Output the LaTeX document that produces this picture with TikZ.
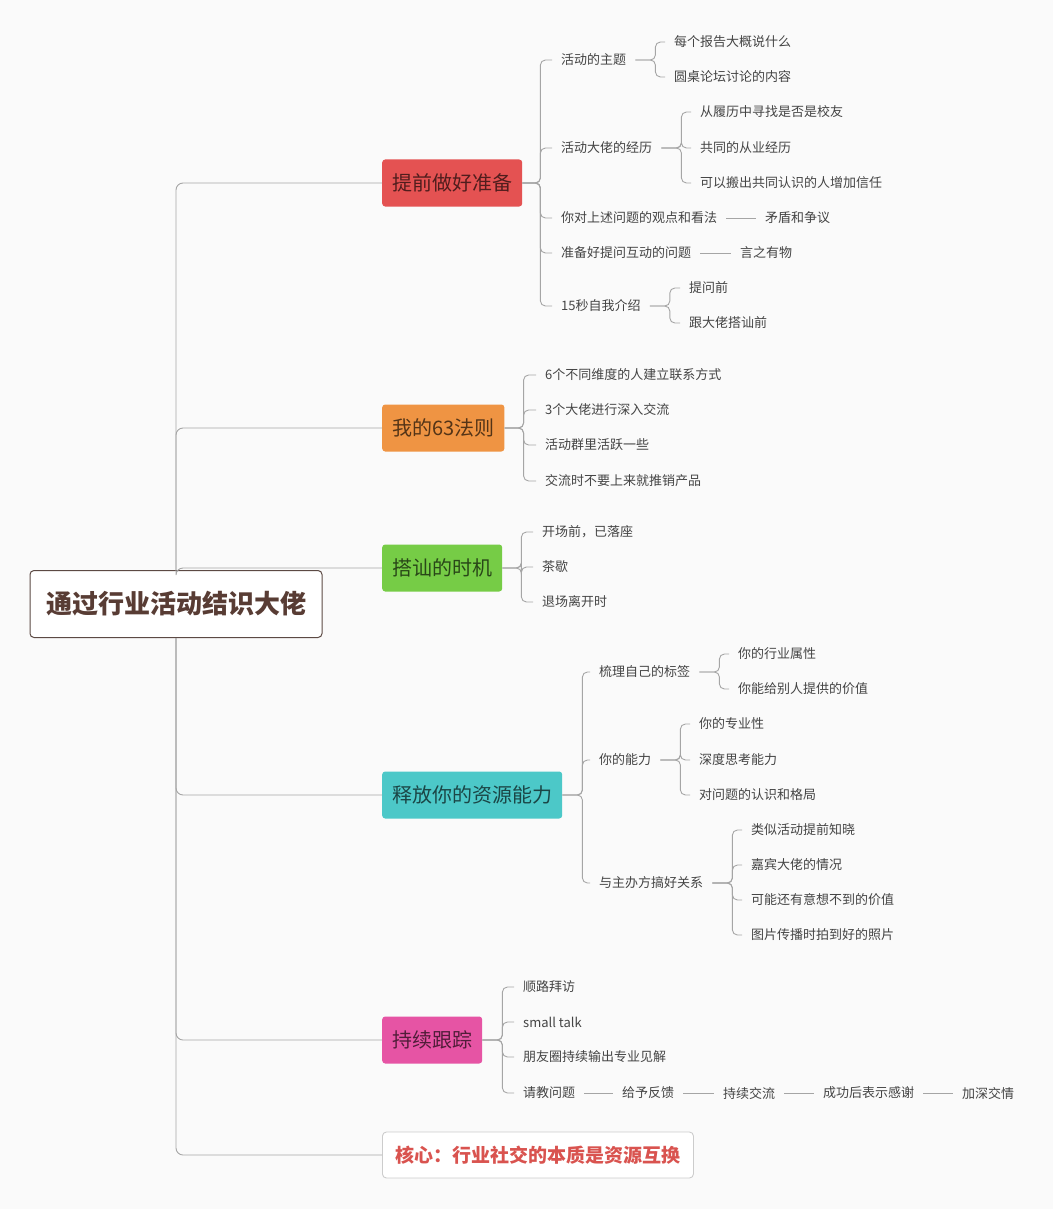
\documentclass[tikz,border=0pt]{standalone}
\usepackage{fontspec}
\setmainfont{Noto Sans CJK SC}
\usetikzlibrary{positioning}
\definecolor{bgc}{RGB}{250,250,250}
\definecolor{linec}{RGB}{165,165,165}
\definecolor{txtc}{RGB}{68,68,68}
\definecolor{rootc}{RGB}{92,74,68}
\definecolor{roottxt}{RGB}{88,60,52}
\definecolor{redc}{RGB}{228,82,82}
\definecolor{orangec}{RGB}{239,148,67}
\definecolor{greenc}{RGB}{118,204,70}
\definecolor{tealc}{RGB}{76,200,200}
\definecolor{pinkc}{RGB}{230,84,164}
\definecolor{corec}{RGB}{217,83,79}
\tikzset{
  topic/.style={fill=#1, text=#1!35!black, rounded corners=3pt, minimum height=47pt,
    inner xsep=10pt, anchor=west, font=\fontsize{20pt}{24pt}\selectfont},
  leaf/.style={text=txtc, inner xsep=9pt, inner ysep=2pt, anchor=west,
    font=\fontsize{13pt}{16pt}\selectfont},
  conn/.style={draw=linec, line width=0.9pt, rounded corners=5pt},
  trunk/.style={conn, rounded corners=7pt},
}
\begin{document}
\begin{tikzpicture}[x=1pt,y=-1pt]
\useasboundingbox (0,0) rectangle (1053,1209);
\fill[bgc] (0,0) rectangle (1053,1209);
% root and main topics
\node[draw=rootc, line width=1pt, fill=white, rounded corners=4pt, text=roottxt,
  font=\bfseries\fontsize{26pt}{30pt}\selectfont, minimum width=292pt, minimum height=67pt]
  (root) at (176,604) {通过行业活动结识大佬};
\node[topic=redc] (prep) at (382,183) {提前做好准备};
\node[topic=orangec] (rule) at (382,428) {我的63法则};
\node[topic=greenc] (timing) at (382,568) {搭讪的时机};
\node[topic=tealc] (res) at (382,795) {释放你的资源能力};
\node[topic=pinkc] (follow) at (382,1040) {持续跟踪};
\node[draw=black!20, line width=0.9pt, fill=white, rounded corners=4pt, text=corec,
  minimum height=46pt, inner xsep=13pt, anchor=west,
  font=\bfseries\fontsize{19pt}{23pt}\selectfont] (core) at (382,1155) {核心：行业社交的本质是资源互换};
\foreach \t in {prep,rule,timing} \draw[trunk] (root.north) |- (\t.west);
\foreach \t in {res,follow,core} \draw[trunk] (root.south) |- (\t.west);
% 提前做好准备
\node[leaf] (prep1) at (552,60) {活动的主题};
\node[leaf] (prep2) at (552,148) {活动大佬的经历};
\node[leaf] (prep3) at (552,218) {你对上述问题的观点和看法};
\node[leaf] (prep4) at (552,253) {准备好提问互动的问题};
\node[leaf] (prep5) at (552,306) {15秒自我介绍};
\foreach \c in {prep1,prep2,prep3,prep4,prep5} \draw[conn] (prep.east) -- ++(18,0) |- (\c.west);
\node[leaf] (prep1a) at (665,42) {每个报告大概说什么};
\node[leaf] (prep1b) at (665,77) {圆桌论坛讨论的内容};
\foreach \c in {prep1a,prep1b} \draw[conn] (prep1.east) -- ++(20,0) |- (\c.west);
\node[leaf] (prep2a) at (691,112) {从履历中寻找是否是校友};
\node[leaf] (prep2b) at (691,148) {共同的从业经历};
\node[leaf] (prep2c) at (691,183) {可以搬出共同认识的人增加信任};
\foreach \c in {prep2a,prep2b,prep2c} \draw[conn] (prep2.east) -- ++(20,0) |- (\c.west);
\node[leaf] (prep3a) at (756,218) {矛盾和争议};
\draw[conn] (prep3) -- (prep3a);
\node[leaf] (prep4a) at (731,253) {言之有物};
\draw[conn] (prep4) -- (prep4a);
\node[leaf] (prep5a) at (680,288) {提问前};
\node[leaf] (prep5b) at (680,323) {跟大佬搭讪前};
\foreach \c in {prep5a,prep5b} \draw[conn] (prep5.east) -- ++(20,0) |- (\c.west);
% 我的63法则
\node[leaf] (rule1) at (536,375) {6个不同维度的人建立联系方式};
\node[leaf] (rule2) at (536,410) {3个大佬进行深入交流};
\node[leaf] (rule3) at (536,445) {活动群里活跃一些};
\node[leaf] (rule4) at (536,481) {交流时不要上来就推销产品};
\foreach \c in {rule1,rule2,rule3,rule4} \draw[conn] (rule.east) -- ++(19,0) |- (\c.west);
% 搭讪的时机
\node[leaf] (time1) at (533,532) {开场前，已落座};
\node[leaf] (time2) at (533,567) {茶歇};
\node[leaf] (time3) at (533,602) {退场离开时};
\foreach \c in {time1,time2,time3} \draw[conn] (timing.east) -- ++(19,0) |- (\c.west);
% 释放你的资源能力
\node[leaf] (res1) at (590,672) {梳理自己的标签};
\node[leaf] (res2) at (590,760) {你的能力};
\node[leaf] (res3) at (590,883) {与主办方搞好关系};
\foreach \c in {res1,res2,res3} \draw[conn] (res.east) -- ++(20,0) |- (\c.west);
\node[leaf] (res1a) at (729,654) {你的行业属性};
\node[leaf] (res1b) at (729,689) {你能给别人提供的价值};
\foreach \c in {res1a,res1b} \draw[conn] (res1.east) -- ++(20,0) |- (\c.west);
\node[leaf] (res2a) at (690,724) {你的专业性};
\node[leaf] (res2b) at (690,760) {深度思考能力};
\node[leaf] (res2c) at (690,795) {对问题的认识和格局};
\foreach \c in {res2a,res2b,res2c} \draw[conn] (res2.east) -- ++(20,0) |- (\c.west);
\node[leaf] (res3a) at (742,830) {类似活动提前知晓};
\node[leaf] (res3b) at (742,865) {嘉宾大佬的情况};
\node[leaf] (res3c) at (742,900) {可能还有意想不到的价值};
\node[leaf] (res3d) at (742,935) {图片传播时拍到好的照片};
\foreach \c in {res3a,res3b,res3c,res3d} \draw[conn] (res3.east) -- ++(20,0) |- (\c.west);
% 持续跟踪
\node[leaf] (fol1) at (514,987) {顺路拜访};
\node[leaf] (fol2) at (514,1022) {small talk};
\node[leaf] (fol3) at (514,1057) {朋友圈持续输出专业见解};
\node[leaf] (fol4) at (514,1093) {请教问题};
\foreach \c in {fol1,fol2,fol3,fol4} \draw[conn] (follow.east) -- ++(20,0) |- (\c.west);
\node[leaf] (fol4a) at (613,1093) {给予反馈};
\node[leaf] (fol4b) at (714,1093) {持续交流};
\node[leaf] (fol4c) at (814,1093) {成功后表示感谢};
\node[leaf] (fol4d) at (953,1093) {加深交情};
\draw[conn] (fol4) -- (fol4a);
\draw[conn] (fol4a) -- (fol4b);
\draw[conn] (fol4b) -- (fol4c);
\draw[conn] (fol4c) -- (fol4d);
\end{tikzpicture}
\end{document}
